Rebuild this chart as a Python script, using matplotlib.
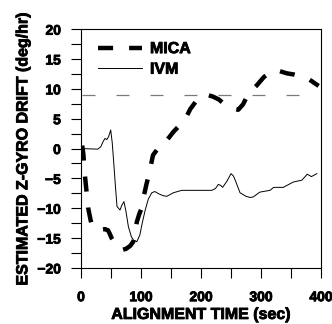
import os
import numpy as np
import matplotlib
matplotlib.use("Agg")
import matplotlib.pyplot as plt
import matplotlib.patheffects as pe
from matplotlib import font_manager as fm
from matplotlib.ticker import MultipleLocator

# MICA estimate (thick dashed)
mica_t = [2, 4, 6, 9, 12, 16, 19, 25, 32, 40, 45, 48, 51, 56, 62, 68, 75, 82,
          87, 90, 93, 97, 101, 105, 109, 113, 120, 128, 137, 154, 173, 182,
          193, 200, 210, 220, 230, 237, 247, 257, 262, 270, 278, 285, 293,
          305, 320, 330, 343, 355, 370, 380, 390, 396]
mica_y = [0.5, -1.0, -4.0, -7.0, -10.0, -12.0, -13.1, -13.5, -13.6, -13.5,
          -13.7, -14.3, -15.0, -15.8, -16.6, -17.0, -16.8, -16.3, -15.6, -14.2,
          -12.3, -11.0, -10.0, -7.8, -6.0, -4.4, -1.1, 0.0, 0.6, 2.8, 4.8, 6.6,
          8.1, 8.6, 9.0, 8.7, 8.2, 7.6, 7.0, 6.6, 6.5, 7.4, 9.0, 9.8, 10.6,
          12.0, 13.1, 13.0, 12.6, 12.4, 12.0, 11.6, 10.9, 10.5]

# IVM estimate (thin solid)
ivm_t = [0, 28, 33, 37, 40, 43, 46, 49.5, 52, 55, 57.5, 60, 65, 68, 71.5,
         74.5, 79, 84, 88, 93, 98, 102, 107, 112, 118, 123, 130, 137, 143,
         154, 168, 198, 218, 224, 229, 233, 236, 243, 250, 254, 257, 265, 275,
         282, 287, 298, 309, 315, 321, 337, 354, 368, 377, 384, 393]
ivm_y = [0.0, -0.1, 0.3, 1.2, 1.7, 1.5, 2.0, 3.1, 1.0, -3.0, -6.5, -9.7,
         -10.3, -9.5, -8.9, -10.3, -13.1, -14.8, -15.4, -15.6, -14.5, -12.5,
         -10.3, -8.5, -7.4, -7.2, -7.6, -7.9, -8.0, -7.4, -7.0, -7.0, -7.0,
         -6.7, -6.0, -6.2, -6.5, -5.5, -4.2, -4.6, -5.3, -7.4, -8.0, -8.2, -8.1,
         -7.3, -7.1, -7.0, -6.5, -6.5, -5.6, -5.3, -4.3, -4.7, -4.2]

threshold = 9

# find a real bold face (Arial-like first)
bold_file = None
for fam in ["Liberation Sans", "Roboto", "Noto Sans", "Open Sans", "Lato",
            "Inter", "DejaVu Sans"]:
    try:
        f = fm.findfont(fm.FontProperties(family=fam, weight="bold"),
                        fallback_to_default=False)
    except ValueError:
        continue
    if "bold" in os.path.basename(f).lower():
        bold_file = f
        break


def fp(size):
    if bold_file:
        return fm.FontProperties(fname=bold_file, size=size)
    return fm.FontProperties(family="DejaVu Sans", weight="bold", size=size)


heavy = [pe.withStroke(linewidth=0.6, foreground="black")]

fig = plt.figure(figsize=(3.32, 3.24), dpi=100)
ax = fig.add_axes([0.244, 0.173, 0.723, 0.737])

ax.plot(mica_t, mica_y, color="black", lw=3.2, dashes=(3.4, 3.6),
        label="MICA")
ax.plot(ivm_t, ivm_y, color="black", lw=0.7, label="IVM")
ax.plot([1, 374], [threshold, threshold], color="#7a7a7a", lw=0.9,
        dashes=(10.4, 16.8))

ax.set_xlim(0, 400)
ax.set_ylim(-20, 20)
ax.xaxis.set_major_locator(MultipleLocator(100))
ax.xaxis.set_minor_locator(MultipleLocator(50))
ax.yaxis.set_major_locator(MultipleLocator(5))
ax.yaxis.set_minor_locator(MultipleLocator(2.5))
ax.tick_params(which="both", direction="out", length=7, width=0.8)
ax.tick_params(axis="x", pad=9)
ax.tick_params(axis="y", pad=7.5)
for lab in ax.get_xticklabels() + ax.get_yticklabels():
    lab.set_fontproperties(fp(10))
    lab.set_path_effects(heavy)
for s in ax.spines.values():
    s.set_linewidth(0.8)

ax.set_xlabel("ALIGNMENT TIME (sec)", fontproperties=fp(11.5), labelpad=2,
              path_effects=heavy)
ax.set_ylabel("ESTIMATED Z-GYRO DRIFT (deg/hr)", fontproperties=fp(11.5),
              labelpad=5, path_effects=heavy)

leg = ax.legend(loc="upper left", frameon=False, prop=fp(11.5),
                handlelength=2.75, bbox_to_anchor=(0.071, 0.95),
                borderaxespad=0, borderpad=0, handletextpad=0.5,
                labelspacing=0.35)
for t in leg.get_texts():
    t.set_path_effects(heavy)

fig.savefig("out.png", dpi=100)
